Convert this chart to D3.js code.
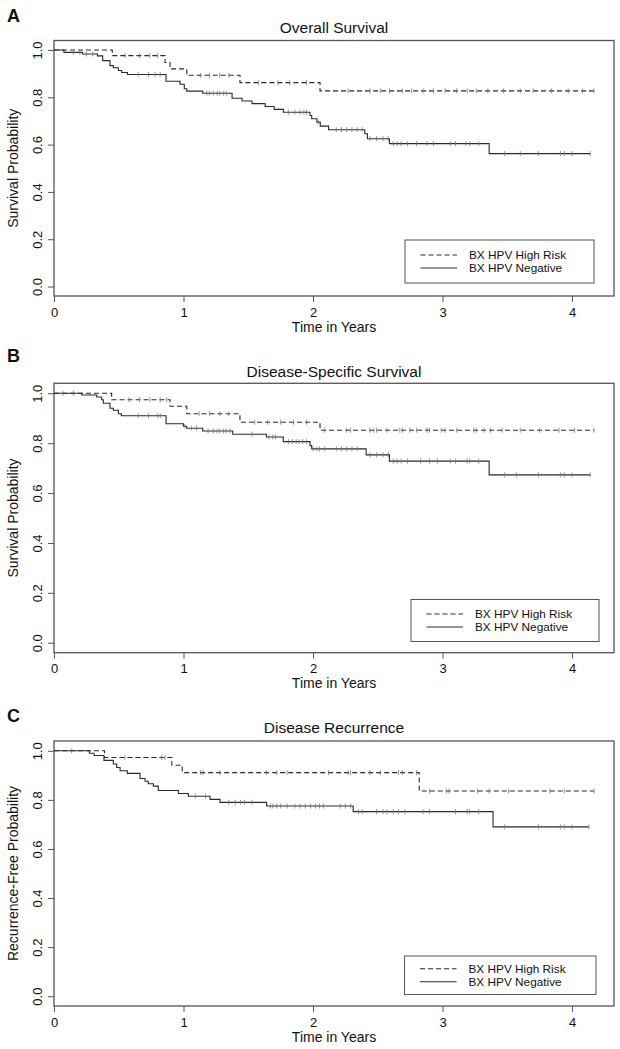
<!DOCTYPE html>
<html><head><meta charset="utf-8">
<script src="https://cdn.jsdelivr.net/npm/d3@7"></script>
<style>
html,body{margin:0;padding:0;background:#fff;}
svg{display:block;font-family:"Liberation Sans",Arial,Helvetica,sans-serif;}
</style></head>
<body><svg id="chart" width="620" height="1049"></svg>
<script>
// ---------- data ----------
const panelLetters = ["A", "B", "C"];
const panelTitles = ["Overall Survival", "Disease-Specific Survival", "Disease Recurrence"];
const yAxisTitles = ["Survival Probability", "Survival Probability", "Recurrence-Free Probability"];
const seriesNames = ["BX HPV High Risk", "BX HPV Negative"];
const xTicks = [0, 1, 2, 3, 4];
const yTicks = [0, 0.2, 0.4, 0.6, 0.8, 1.0];

// A: Overall survival
const osHighTimes = [0.45, 0.857, 0.896, 1.025, 1.436, 2.054];
const osHighSurv  = [0.976, 0.947, 0.920, 0.893, 0.862, 0.827];
const osHighCensor = [0.55,0.66,0.74,0.80,1.13,1.20,1.28,1.35,1.58,1.73,1.82,1.95,2.27,2.44,2.52,2.59,2.69,2.76,2.85,2.93,3.02,3.11,3.19,3.26,3.35,3.47,3.60,3.70,3.84,3.97,4.08,4.17];
const osNegTimes = [0.077,0.22,0.335,0.376,0.432,0.458,0.497,0.523,0.567,0.865,0.973,1.006,1.025,1.149,1.375,1.452,1.529,1.63,1.70,1.771,1.977,1.99,2.03,2.056,2.12,2.40,2.42,2.59,3.36];
const osNegSurv  = [0.99,0.983,0.975,0.955,0.934,0.925,0.913,0.905,0.896,0.868,0.855,0.836,0.826,0.817,0.796,0.784,0.773,0.761,0.749,0.737,0.723,0.709,0.695,0.678,0.663,0.646,0.625,0.604,0.562];
const osNegCensor = [0.149,0.2,0.25,0.30,0.65,0.73,0.78,0.82,1.18,1.20,1.23,1.26,1.28,1.31,1.33,1.81,1.86,1.90,1.93,1.95,2.04,2.18,2.22,2.26,2.30,2.34,2.38,2.44,2.49,2.54,2.58,2.62,2.65,2.68,2.73,2.80,2.88,2.93,3.06,3.10,3.18,3.21,3.28,3.48,3.60,3.74,3.91,3.94,4.00,4.14];

// B: Disease-specific survival
const dssHighTimes = [0.445, 0.896, 1.025, 1.436, 2.054];
const dssHighSurv  = [0.974, 0.948, 0.918, 0.884, 0.852];
const dssHighCensor = [0.58,0.66,0.74,0.82,0.87,1.12,1.20,1.28,1.35,1.55,1.65,1.75,1.85,1.95,2.09,2.26,2.29,2.44,2.47,2.49,2.57,2.67,2.69,2.75,2.80,2.88,2.90,2.99,3.02,3.11,3.24,3.26,3.32,3.37,3.46,3.60,3.75,3.90,4.02,4.17];
const dssNegTimes = [0.214,0.33,0.368,0.381,0.432,0.458,0.497,0.52,0.865,0.999,1.025,1.148,1.38,1.64,1.77,1.977,1.99,2.41,2.59,3.36];
const dssNegSurv  = [0.993,0.985,0.974,0.96,0.94,0.932,0.918,0.91,0.878,0.868,0.86,0.849,0.836,0.825,0.806,0.79,0.777,0.753,0.728,0.673];
const dssNegCensor = [0.07,0.15,0.65,0.73,0.80,0.82,1.01,1.06,1.10,1.19,1.23,1.26,1.28,1.31,1.33,1.36,1.53,1.66,1.69,1.71,1.81,1.84,1.87,1.89,1.92,1.95,2.00,2.03,2.05,2.09,2.18,2.22,2.26,2.30,2.34,2.44,2.49,2.54,2.58,2.62,2.65,2.68,2.73,2.83,2.90,2.96,3.06,3.10,3.19,3.21,3.28,3.48,3.57,3.74,3.91,3.94,4.00,4.14];

// C: Disease recurrence
const recHighTimes = [0.39, 0.91, 0.99, 2.82];
const recHighSurv  = [0.973, 0.941, 0.911, 0.836];
const recHighCensor = [0.548,0.83,0.857,1.13,1.15,1.28,1.64,1.72,1.80,2.12,2.27,2.29,2.44,2.52,2.66,2.69,2.80,2.90,3.03,3.05,3.27,3.36,3.51,3.83,3.94,4.17];
const recNegTimes = [0.273,0.309,0.386,0.458,0.484,0.51,0.566,0.664,0.703,0.728,0.767,0.805,0.96,1.037,1.205,1.282,1.642,2.31,3.39];
const recNegSurv  = [0.99,0.981,0.961,0.946,0.932,0.919,0.908,0.887,0.876,0.866,0.856,0.838,0.826,0.815,0.802,0.79,0.775,0.752,0.69];
const recNegCensor = [0.137,1.09,1.17,1.35,1.40,1.44,1.47,1.53,1.67,1.69,1.72,1.75,1.80,1.86,1.90,1.94,1.98,2.02,2.05,2.08,2.21,2.25,2.29,2.35,2.38,2.49,2.54,2.57,2.62,2.66,2.71,2.85,2.90,3.10,3.19,3.21,3.28,3.48,3.74,3.91,3.94,4.00,4.13];

const panelData = [
  [{times: osHighTimes, surv: osHighSurv, censor: osHighCensor}, {times: osNegTimes, surv: osNegSurv, censor: osNegCensor}],
  [{times: dssHighTimes, surv: dssHighSurv, censor: dssHighCensor}, {times: dssNegTimes, surv: dssNegSurv, censor: dssNegCensor}],
  [{times: recHighTimes, surv: recHighSurv, censor: recHighCensor}, {times: recNegTimes, surv: recNegSurv, censor: recNegCensor}]
];

// ---------- layout ----------
const layout = [
  {top: 40.5, bottom: 296,   letterY: 22,  titleY: 33,  legend: {x: 405, y: 240, w: 189, h: 43}},
  {top: 383.3, bottom: 652.7, letterY: 361.5, titleY: 376.5, legend: {x: 411, y: 599.5, w: 188, h: 42}},
  {top: 741,  bottom: 1006,  letterY: 721.5, titleY: 733, legend: {x: 404.5, y: 956, w: 191.5, h: 38.5}}
];
const left = 54, right = 614;

const svg = d3.select("#chart");
const x = d3.scaleLinear().domain([0, 4.324]).range([left, right]);

const lineColor = "#2a2a2a";
const boxColor = "#555";

function survAt(s, t) {
  const i = d3.bisectRight(s.times, t);
  return i === 0 ? 1 : s.surv[i - 1];
}

panelData.forEach((series, p) => {
  const L = layout[p];
  const y = d3.scaleLinear().domain([-0.04, 1.04]).range([L.bottom, L.top]);
  const g = svg.append("g");

  // letter + title
  g.append("text").attr("x", 7).attr("y", L.letterY).attr("font-size", 18).attr("font-weight", "bold")
    .attr("fill", "#111").text(panelLetters[p]);
  g.append("text").attr("x", (left + right) / 2).attr("y", L.titleY).attr("text-anchor", "middle")
    .attr("font-size", 15.5).attr("fill", "#111").text(panelTitles[p]);

  // axes
  const ya = g.append("g").attr("transform", `translate(${left},0)`)
    .call(d3.axisLeft(y).tickValues(yTicks).tickFormat(d3.format(".1f")).tickSize(6).tickSizeOuter(0));
  ya.select(".domain").remove();
  ya.selectAll("line").attr("stroke", boxColor);
  ya.selectAll("text").attr("x", null).attr("dy", null)
    .attr("transform", "translate(-12.5,0) rotate(-90)").attr("text-anchor", "middle")
    .attr("font-size", 13).attr("fill", "#111").attr("font-family", null);

  const xa = g.append("g").attr("transform", `translate(0,${L.bottom})`)
    .call(d3.axisBottom(x).tickValues(xTicks).tickFormat(d3.format("d")).tickSize(6).tickSizeOuter(0));
  xa.select(".domain").remove();
  xa.selectAll("line").attr("stroke", boxColor);
  xa.selectAll("text").attr("y", 20.5).attr("dy", null).attr("font-size", 13).attr("fill", "#111").attr("font-family", null);

  g.append("text").attr("x", (left + right) / 2).attr("y", L.bottom + 35.5).attr("text-anchor", "middle")
    .attr("font-size", 14).attr("fill", "#111").text("Time in Years");
  g.append("text").attr("transform", `translate(17.5,${(L.top + L.bottom) / 2}) rotate(-90)`)
    .attr("text-anchor", "middle").attr("font-size", 14).attr("fill", "#111").text(yAxisTitles[p]);

  // box
  g.append("rect").attr("x", left).attr("y", L.top).attr("width", right - left).attr("height", L.bottom - L.top)
    .attr("fill", "none").attr("stroke", boxColor).attr("stroke-width", 1.3);

  // curves
  const line = d3.line().x(d => x(d[0])).y(d => y(d[1])).curve(d3.curveStepAfter);
  series.forEach((s, k) => {
    const end = d3.max(s.censor);
    const pts = [[0, 1]].concat(s.times.map((t, i) => [t, s.surv[i]]));
    pts.push([end, s.surv[s.surv.length - 1]]);
    g.append("path").attr("d", line(pts)).attr("fill", "none").attr("stroke", lineColor)
      .attr("stroke-width", 1.1).attr("stroke-dasharray", k === 0 ? "5,3" : null);
    g.selectAll(null).data(s.censor).enter().append("line")
      .attr("x1", d => x(d)).attr("x2", d => x(d))
      .attr("y1", d => y(survAt(s, d)) - 2.5).attr("y2", d => y(survAt(s, d)) + 2.5)
      .attr("stroke", "#777").attr("stroke-width", 0.8);
  });

  // legend
  const lg = g.append("g");
  lg.append("rect").attr("x", L.legend.x).attr("y", L.legend.y).attr("width", L.legend.w).attr("height", L.legend.h)
    .attr("fill", "#fff").attr("stroke", boxColor).attr("stroke-width", 1);
  const cy = L.legend.y + L.legend.h / 2;
  seriesNames.forEach((name, k) => {
    const ly = cy + (k === 0 ? -6.5 : 6.5);
    lg.append("line").attr("x1", L.legend.x + 15.5).attr("x2", L.legend.x + 52).attr("y1", ly).attr("y2", ly)
      .attr("stroke", lineColor).attr("stroke-width", 1).attr("stroke-dasharray", k === 0 ? "5,3" : null);
    lg.append("text").attr("x", L.legend.x + 64).attr("y", ly + 4.2).attr("font-size", 11.8).attr("fill", "#111").text(name);
  });
});
</script></body></html>
